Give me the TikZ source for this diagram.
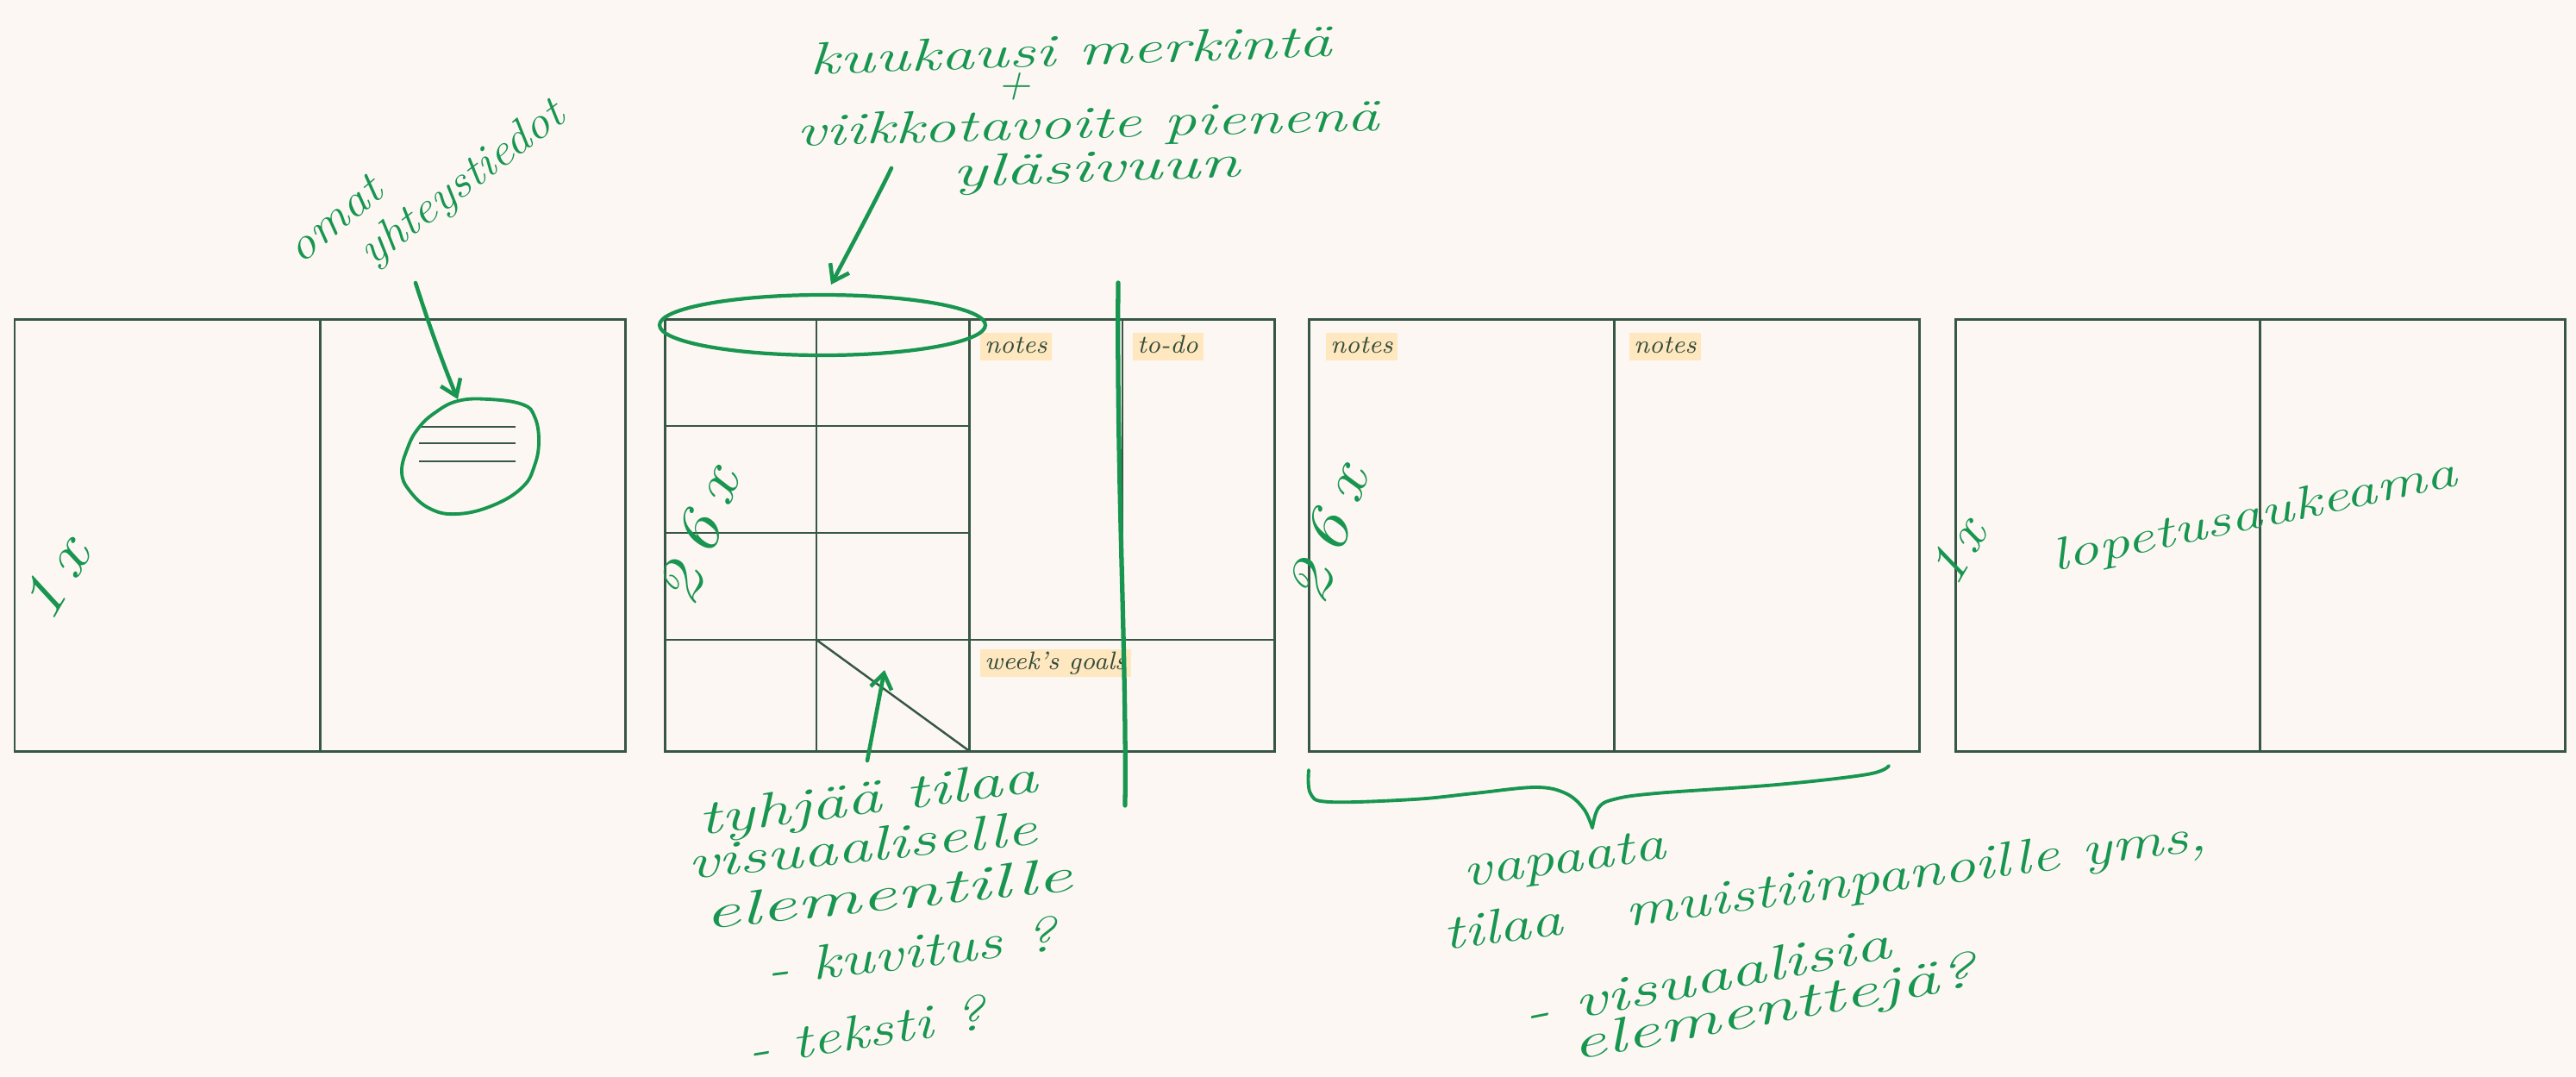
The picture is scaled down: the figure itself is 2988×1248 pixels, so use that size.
\documentclass[tikz,border=0pt]{standalone}
\usepackage{graphicx}
\usetikzlibrary{arrows.meta,shapes.geometric}
\definecolor{bg}{RGB}{253,247,244}
\definecolor{frame}{RGB}{55,86,68}
\definecolor{ink}{RGB}{24,150,80}
\definecolor{lblfill}{RGB}{255,231,191}
\definecolor{lbltext}{RGB}{50,76,60}
\newcommand{\hwsize}[1]{\fontsize{#1}{#1}\selectfont\itshape}
\newcommand{\hstretch}[2]{\scalebox{#1}[1]{#2}}
\tikzset{
  pageline/.style={draw=frame, line width=0.85pt},
  gridline/.style={draw=frame, line width=0.7pt},
  lbl/.style={fill=lblfill, text=lbltext, font=\fontsize{8.4}{10}\selectfont\itshape,
    inner xsep=1.6pt, inner ysep=0.5pt, text height=6.2pt, text depth=1.9pt, anchor=north west},
  hw/.style={text=ink, inner sep=0pt},
  inkline/.style={draw=ink, line width=1.3pt, line cap=round, line join=round},
  inkarrow/.style={inkline, -{Straight Barb[length=5pt,width=7pt]}},
}
\begin{document}
\begin{tikzpicture}[x=0.01cm,y=-0.01cm]
\useasboundingbox (0,0) rectangle (2988,1248);
\fill[bg] (0,0) rectangle (2988,1248);

% ---------- spread 1 ----------
\draw[pageline] (17,370) rectangle (725,871);
\draw[pageline] (371,370) -- (371,871);
\draw[gridline] (486,495) -- (598,495);
\draw[gridline] (486,514) -- (598,514);
\draw[gridline] (486,535) -- (598,535);
\draw[inkline, line width=1.1pt] plot[smooth cycle, tension=0.7] coordinates {
  (531,465) (567,463) (606,469) (620,483) (625,511) (620,540) (606,565)
  (572,586) (531,596) (499,590) (475,569) (466,547) (473,519) (485,497) (504,479)};

% ---------- spread 2 ----------
\draw[pageline] (771,370) rectangle (1478,871);
\draw[pageline] (1124.5,370) -- (1124.5,871);
\draw[gridline] (947,370) -- (947,871);
\draw[gridline] (771,494) -- (1124.5,494);
\draw[gridline] (771,618) -- (1124.5,618);
\draw[gridline] (771,742) -- (1478,742);
\draw[gridline] (1302,370) -- (1302,742);
\draw[gridline] (947,742) -- (1124.5,871);
\node[lbl] (notesA) at (1136,385) {notes};
\node[lbl] (todo) at (1313,385) {to-do};
\node[lbl] (goals) at (1136,752) {week's goals};

% ---------- spread 3 ----------
\draw[pageline] (1518,370) rectangle (2226,871);
\draw[pageline] (1872,370) -- (1872,871);
\node[lbl] (notesB) at (1537,385) {notes};
\node[lbl] (notesC) at (1889,385) {notes};

% ---------- spread 4 ----------
\draw[pageline] (2268,370) rectangle (2975,871);
\draw[pageline] (2621,370) -- (2621,871);

% ---------- handwritten annotations ----------
\node[hw, rotate=40, font=\hwsize{15}] (omat) at (388,254) {\hstretch{1.13}{omat}};
\node[hw, rotate=37, font=\hwsize{15}] (yht) at (537,214) {\hstretch{1.08}{yhteystiedot}};
\coordinate (c1s) at (482,328);
\coordinate (c1e) at (531,463);
\draw[inkarrow] (c1s) .. controls (497,375) and (515,425) .. (c1e);

\node[hw, rotate=2, font=\hwsize{15}] (kuu) at (1242,58) {\hstretch{1.47}{kuukausi merkintä}};
\node[hw, font=\hwsize{15}] (plus) at (1176,100) {+};
\node[hw, rotate=1.5, font=\hwsize{15}] (viikko) at (1262,147) {\hstretch{1.43}{viikkotavoite pienenä}};
\node[hw, rotate=2, font=\hwsize{15}] (yla) at (1272,198) {\hstretch{1.59}{yläsivuun}};
\coordinate (c2s) at (1034,195);
\coordinate (c2e) at (964,330);
\draw[inkarrow] (c2s) .. controls (1012,240) and (986,288) .. (c2e);
\draw[inkline, line width=1.2pt] (954,377) ellipse [x radius=189, y radius=35];

\draw[inkline, line width=1.5pt] (1297,328) .. controls (1295,560) and (1307,760) .. (1305,934);

\node[hw, rotate=70, font=\hwsize{20}] (n26a) at (810,622) {\hstretch{1.25}{2\kern4pt 6\kern4pt x}};
\node[hw, rotate=71, font=\hwsize{20}] (n26b) at (1540,620) {\hstretch{1.25}{2\kern4pt 6\kern4pt x}};
\node[hw, rotate=60, font=\hwsize{20}] (n1a) at (63,672) {\hstretch{1.25}{1\kern3pt x}};
\node[hw, rotate=60, font=\hwsize{18}] (n1b) at (2270,640) {\hstretch{1.15}{1\kern2pt x}};
\node[hw, rotate=12, font=\hwsize{15}] (lop) at (2615,600) {\hstretch{1.38}{lopetusaukeama}};

\coordinate (c3s) at (1006,882);
\coordinate (c3e) at (1026,777);
\draw[inkarrow] (c3s) -- (c3e);

\node[hw, rotate=7.3, font=\hwsize{16}] (tyh) at (1007,930) {\hstretch{1.46}{tyhjää tilaa}};
\node[hw, rotate=5.7, font=\hwsize{16}] (vis) at (1000,980) {\hstretch{1.42}{visuaaliselle}};
\node[hw, rotate=6, font=\hwsize{16}] (ele) at (1030,1036) {\hstretch{1.66}{elementille}};
\node[hw, rotate=7, font=\hwsize{16}] (kuv) at (1057,1103) {\hstretch{1.33}{- kuvitus ?}};
\node[hw, rotate=9, font=\hwsize{16}] (tek) at (1005,1195) {\hstretch{1.3}{- teksti ?}};

\draw[inkline, line width=1.1pt] plot[smooth, tension=0.6] coordinates {
  (1518,893) (1520,920) (1542,930) (1640,927) (1710,920) (1781,913) (1816,920) (1837,938) (1847,960)};
\draw[inkline, line width=1.1pt] plot[smooth, tension=0.6] coordinates {
  (1847,960) (1854,937) (1872,927) (1921,920) (2061,910) (2166,898) (2191,888)};

\node[hw, rotate=8, font=\hwsize{16}] (vap) at (1815,1000) {\hstretch{1.3}{vapaata}};
\node[hw, rotate=7.5, font=\hwsize{16}] (tilaa) at (2117,1030) {\hstretch{1.32}{tilaa\quad muistiinpanoille yms,}};
\node[hw, rotate=11, font=\hwsize{16}] (vis2) at (1980,1133) {\hstretch{1.5}{- visuaalisia}};
\node[hw, rotate=10.5, font=\hwsize{16}] (ele2) at (2058,1172) {\hstretch{1.58}{elementtejä?}};
\end{tikzpicture}
\end{document}
